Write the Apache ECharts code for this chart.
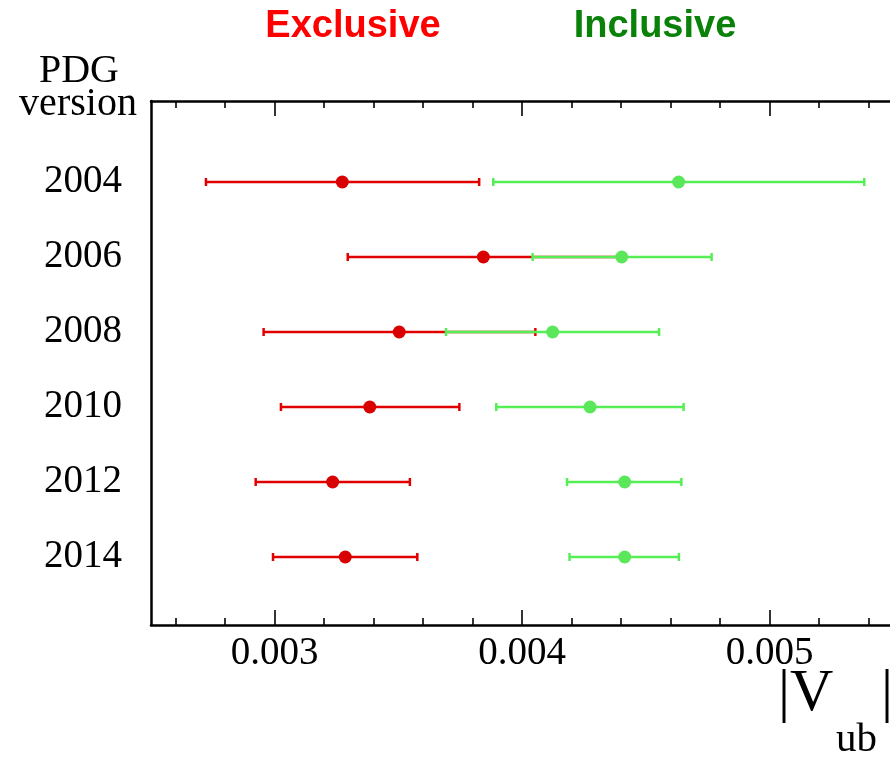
<!DOCTYPE html>
<html>
<head>
<meta charset="utf-8">
<script src="https://cdn.jsdelivr.net/npm/echarts@6/dist/echarts.min.js"></script>
<style>
  html, body { margin: 0; padding: 0; background: #fff; }
  #chart { width: 890px; height: 758px; }
</style>
</head>
<body>
<div id="chart"></div>
<script>
// PDG editions and |Vub| averages (central value with lower / upper error limits)
const years = [2004, 2006, 2008, 2010, 2012, 2014];
const exclCentral = [0.003273, 0.003843, 0.003503, 0.003384, 0.003234, 0.003285];
const exclLow     = [0.002722, 0.003295, 0.002955, 0.003025, 0.002923, 0.002993];
const exclHigh    = [0.003826, 0.004395, 0.004053, 0.003746, 0.003546, 0.003576];
const inclCentral = [0.004632, 0.004402, 0.004123, 0.004274, 0.004414, 0.004414];
const inclLow     = [0.003883, 0.004042, 0.003692, 0.003895, 0.004181, 0.004191];
const inclHigh    = [0.005382, 0.004765, 0.004553, 0.004652, 0.004643, 0.004633];

// axis ticks
const majorTicks = [0.003, 0.004, 0.005];
const minorTicks = [0.0026, 0.0028, 0.0032, 0.0034, 0.0036, 0.0038,
                    0.0042, 0.0044, 0.0046, 0.0048, 0.0052, 0.0054];

const RED = '#e00000';
const RED_DOT = '#d80000';
const GREEN = '#55ef55';
const GREEN_DOT = '#5ae85a';
const SERIF = '"Liberation Serif", "Times New Roman", serif';

const chart = echarts.init(document.getElementById('chart'), null, { renderer: 'canvas' });

function errorBarRender(color) {
  return function (params, api) {
    const lo = api.coord([api.value(0), api.value(2)]);
    const hi = api.coord([api.value(1), api.value(2)]);
    const capH = 4;
    const style = { stroke: color, lineWidth: 2.5 };
    return {
      type: 'group',
      children: [
        { type: 'line', shape: { x1: lo[0], y1: lo[1], x2: hi[0], y2: hi[1] }, style: style },
        { type: 'line', shape: { x1: lo[0], y1: lo[1] - capH, x2: lo[0], y2: lo[1] + capH }, style: style },
        { type: 'line', shape: { x1: hi[0], y1: hi[1] - capH, x2: hi[0], y2: hi[1] + capH }, style: style }
      ]
    };
  };
}

// the frame continues past the right edge of the canvas
const xMin = 0.0025, xMax = 0.005486;
const axisLineStyle = { color: '#000', width: 2.5 };

function xAxisDef(pos, ticks, len, showLine, showLabels) {
  return {
    type: 'value', position: pos, min: xMin, max: xMax,
    axisLine: { show: showLine, onZero: false, lineStyle: axisLineStyle },
    axisTick: { show: true, inside: true, length: len, customValues: ticks,
                lineStyle: { color: '#000', width: 1.6 } },
    axisLabel: showLabels ? {
      show: true, customValues: majorTicks, margin: 9,
      formatter: v => v.toFixed(3),
      fontFamily: SERIF, fontSize: 39, color: '#000'
    } : { show: false },
    splitLine: { show: false }
  };
}

const option = {
  animation: false,
  backgroundColor: '#fff',
  grid: { left: 151, top: 101, right: 0, height: 524, containLabel: false },
  xAxis: [
    xAxisDef('bottom', majorTicks, 15, true, true),
    xAxisDef('bottom', minorTicks, 7, false, false),
    xAxisDef('top', majorTicks, 15, true, false),
    xAxisDef('top', minorTicks, 7, false, false)
  ],
  yAxis: {
    type: 'value', inverse: true, min: 2001.84, max: 2015.813,
    axisLine: { show: true, onZero: false, lineStyle: axisLineStyle },
    axisTick: { show: false },
    axisLabel: {
      customValues: years, margin: 29, fontFamily: SERIF, fontSize: 39, color: '#000',
      formatter: v => String(v)
    },
    splitLine: { show: false }
  },
  graphic: [
    { type: 'text', x: 353, y: 27, style: { text: 'Exclusive', fill: '#ff0000', align: 'center', verticalAlign: 'middle',
      font: 'bold 38px "Liberation Sans", Arial, sans-serif' } },
    { type: 'text', x: 655, y: 27, style: { text: 'Inclusive', fill: '#0a820a', align: 'center', verticalAlign: 'middle',
      font: 'bold 38px "Liberation Sans", Arial, sans-serif' } },
    { type: 'text', x: 79, y: 71, style: { text: 'PDG', fill: '#000', align: 'center', verticalAlign: 'middle',
      font: '40px ' + SERIF } },
    { type: 'text', x: 78, y: 104, style: { text: 'version', fill: '#000', align: 'center', verticalAlign: 'middle',
      font: '40px ' + SERIF } },
    { type: 'text', x: 778, y: 694, style: { text: '|V', fill: '#000', align: 'left', verticalAlign: 'middle',
      font: '60px ' + SERIF } },
    { type: 'text', x: 836, y: 740, style: { text: 'ub', fill: '#000', align: 'left', verticalAlign: 'middle',
      font: '41px ' + SERIF } },
    { type: 'text', x: 881, y: 694, style: { text: '|', fill: '#000', align: 'left', verticalAlign: 'middle',
      font: '60px ' + SERIF } }
  ],
  series: [
    {
      name: 'Exclusive errors', type: 'custom', xAxisIndex: 0,
      renderItem: errorBarRender(RED),
      encode: { x: [0, 1], y: 2 },
      data: years.map((y, i) => [exclLow[i], exclHigh[i], y]),
      z: 2
    },
    {
      name: 'Inclusive errors', type: 'custom', xAxisIndex: 0,
      renderItem: errorBarRender(GREEN),
      encode: { x: [0, 1], y: 2 },
      data: years.map((y, i) => [inclLow[i], inclHigh[i], y]),
      z: 3
    },
    {
      name: 'Inclusive', type: 'scatter', xAxisIndex: 0, symbol: 'circle', symbolSize: 13,
      itemStyle: { color: GREEN_DOT, opacity: 1 },
      data: years.map((y, i) => [inclCentral[i], y]),
      z: 4
    },
    {
      name: 'Exclusive', type: 'scatter', xAxisIndex: 0, symbol: 'circle', symbolSize: 13,
      itemStyle: { color: RED_DOT, opacity: 1 },
      data: years.map((y, i) => [exclCentral[i], y]),
      z: 5
    }
  ]
};

chart.setOption(option);
</script>
</body>
</html>
